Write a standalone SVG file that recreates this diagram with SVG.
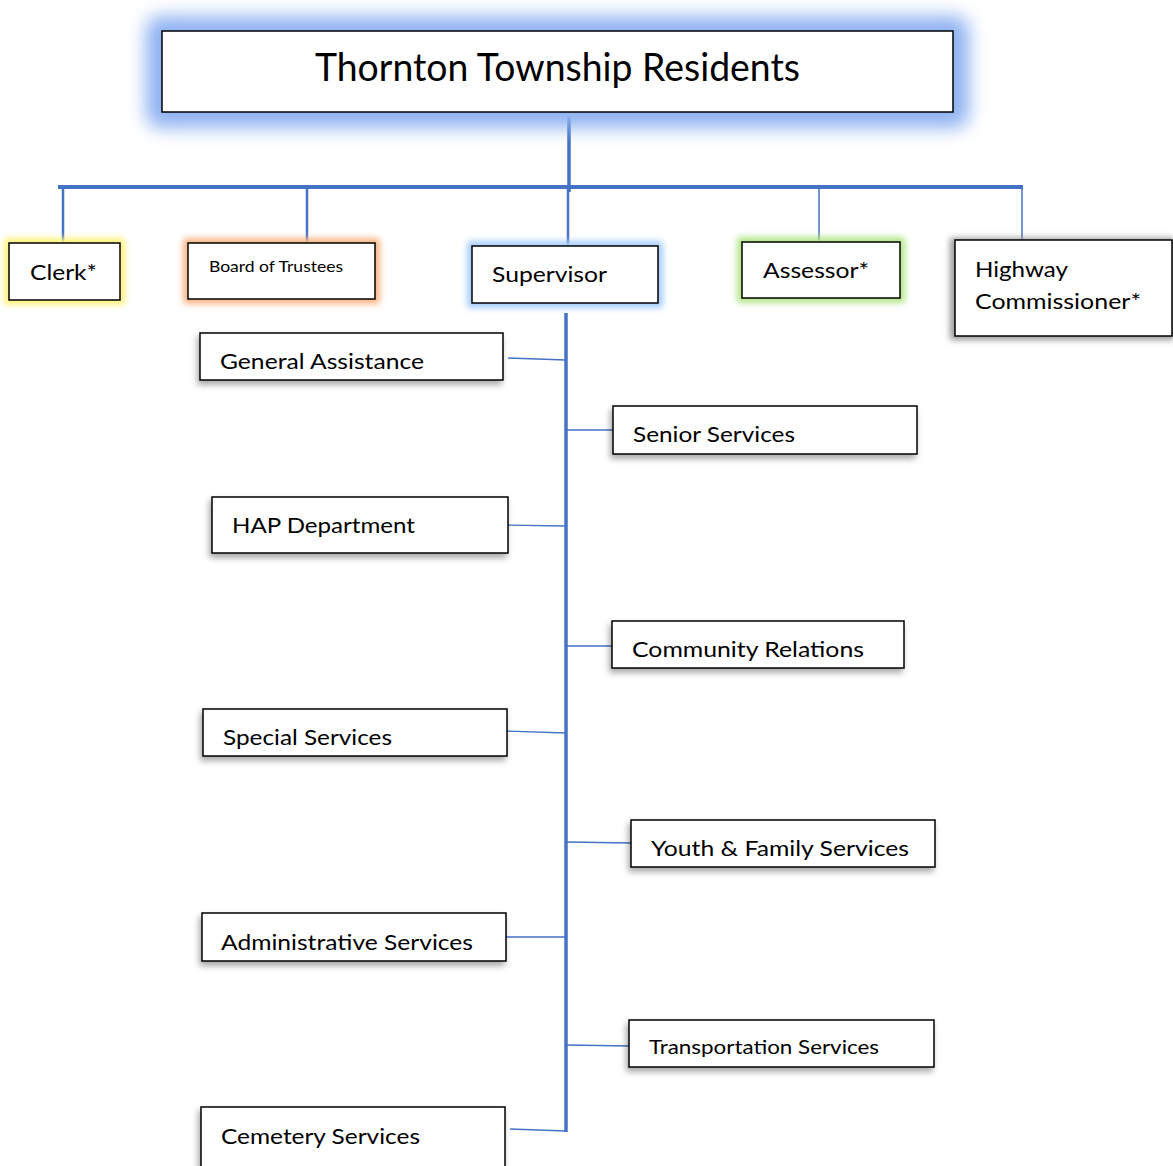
<svg xmlns="http://www.w3.org/2000/svg" width="1173" height="1166" viewBox="0 0 1173 1166">
<defs>
<style>
.box{fill:#fff;stroke:#000;stroke-width:1.5}
.t{font-family:Lato,"Open Sans","Liberation Sans",sans-serif;fill:#000;font-size:22px}
.t.title{font-size:38px}
.t.small{font-size:16px}
.t.mid{font-size:20px}
.main{stroke:#4472c4;stroke-width:3.5;fill:none}
.thin{stroke:#4472c4;stroke-width:1.5;fill:none}
.br{stroke:#4472c4;stroke-width:1.3;fill:none}
</style>
<filter id="glowBig" x="-20%" y="-50%" width="140%" height="200%"><feGaussianBlur stdDeviation="9"/></filter>
<filter id="glowSm" x="-30%" y="-50%" width="160%" height="200%"><feGaussianBlur stdDeviation="3"/></filter>
<filter id="shadow" x="-10%" y="-30%" width="120%" height="170%"><feDropShadow dx="-2" dy="4" stdDeviation="3" flood-color="#000" flood-opacity="0.35"/></filter>
</defs>
<rect width="1173" height="1166" fill="#fff"/>

<g id="connectors">
<line class="main" x1="569" y1="117" x2="569" y2="192"/>
<line class="main" x1="58" y1="187" x2="1023" y2="187" style="stroke-width:4"/>
<line class="main" x1="63" y1="187" x2="63" y2="243" style="stroke-width:2.5"/>
<line class="main" x1="307" y1="187" x2="307" y2="243" style="stroke-width:2.5"/>
<line class="main" x1="568" y1="187" x2="568" y2="246" style="stroke-width:2.5"/>
<line class="thin" x1="819" y1="187" x2="819" y2="242"/>
<line class="thin" x1="1022" y1="187" x2="1022" y2="240"/>
<line class="main" x1="566" y1="313" x2="566" y2="1132"/>
<line class="br" x1="508" y1="358" x2="566" y2="360"/>
<line class="br" x1="566" y1="430" x2="613" y2="430"/>
<line class="br" x1="504" y1="525" x2="566" y2="526"/>
<line class="br" x1="566" y1="646" x2="612" y2="646"/>
<line class="br" x1="507" y1="731" x2="566" y2="733"/>
<line class="br" x1="566" y1="842" x2="631" y2="843"/>
<line class="br" x1="506" y1="937" x2="566" y2="937"/>
<line class="br" x1="566" y1="1045" x2="631" y2="1046"/>
<line class="br" x1="510" y1="1129" x2="566" y2="1131"/>
</g>

<g id="residents">
<rect x="146" y="16" width="823" height="112" rx="14" fill="#8fb2f2" filter="url(#glowBig)"/>
<rect class="box" x="162" y="31" width="791" height="81"/>
<text class="t title" x="315" y="81" textLength="485" lengthAdjust="spacingAndGlyphs">Thornton Township Residents</text>
</g>

<g id="clerk">
<rect x="4" y="238" width="121" height="67" rx="4" fill="#fff27a" filter="url(#glowSm)"/>
<rect class="box" x="9" y="243" width="111" height="57"/>
<text class="t" x="30" y="280" textLength="67" lengthAdjust="spacingAndGlyphs">Clerk*</text>
</g>

<g id="board">
<rect x="183" y="238" width="197" height="66" rx="4" fill="#f7b585" filter="url(#glowSm)"/>
<rect class="box" x="188" y="243" width="187" height="56"/>
<text class="t small" x="209" y="272" textLength="134" lengthAdjust="spacingAndGlyphs">Board of Trustees</text>
</g>

<g id="supervisor">
<rect x="467" y="241" width="196" height="67" rx="4" fill="#a6cdfa" filter="url(#glowSm)"/>
<rect class="box" x="472" y="246" width="186" height="57"/>
<text class="t" x="492" y="282" textLength="115" lengthAdjust="spacingAndGlyphs">Supervisor</text>
</g>

<g id="assessor">
<rect x="737" y="237" width="168" height="66" rx="4" fill="#b2e687" filter="url(#glowSm)"/>
<rect class="box" x="742" y="242" width="158" height="56"/>
<text class="t" x="763" y="278" textLength="106" lengthAdjust="spacingAndGlyphs">Assessor*</text>
</g>

<g id="highway">
<rect x="950" y="238" width="224" height="102" fill="#999" filter="url(#glowSm)"/>
<rect class="box" x="955" y="240" width="217" height="96"/>
<text class="t" x="975" y="277" textLength="93" lengthAdjust="spacingAndGlyphs">Highway</text>
<text class="t" x="975" y="309" textLength="166" lengthAdjust="spacingAndGlyphs">Commissioner*</text>
</g>

<g id="general-assistance" >
<rect class="box" x="200" y="333" width="303" height="47" filter="url(#shadow)"/>
<text class="t" x="220" y="369" textLength="204" lengthAdjust="spacingAndGlyphs">General Assistance</text>
</g>
<g id="senior-services">
<rect class="box" x="613" y="406" width="304" height="48" filter="url(#shadow)"/>
<text class="t" x="633" y="442" textLength="162" lengthAdjust="spacingAndGlyphs">Senior Services</text>
</g>
<g id="hap-department">
<rect class="box" x="212" y="497" width="296" height="56" filter="url(#shadow)"/>
<text class="t" x="232" y="533" textLength="183" lengthAdjust="spacingAndGlyphs">HAP Department</text>
</g>
<g id="community-relations">
<rect class="box" x="612" y="621" width="292" height="47" filter="url(#shadow)"/>
<text class="t" x="632" y="657" textLength="232" lengthAdjust="spacingAndGlyphs">Community Relations</text>
</g>
<g id="special-services">
<rect class="box" x="203" y="709" width="304" height="47" filter="url(#shadow)"/>
<text class="t" x="223" y="745" textLength="169" lengthAdjust="spacingAndGlyphs">Special Services</text>
</g>
<g id="youth-family-services">
<rect class="box" x="631" y="820" width="304" height="47" filter="url(#shadow)"/>
<text class="t" x="651" y="856" textLength="258" lengthAdjust="spacingAndGlyphs">Youth &amp; Family Services</text>
</g>
<g id="administrative-services">
<rect class="box" x="202" y="913" width="304" height="48" filter="url(#shadow)"/>
<text class="t" x="221" y="950" textLength="252" lengthAdjust="spacingAndGlyphs">Administrative Services</text>
</g>
<g id="transportation-services">
<rect class="box" x="629" y="1020" width="305" height="47" filter="url(#shadow)"/>
<text class="t mid" x="649" y="1054" textLength="230" lengthAdjust="spacingAndGlyphs">Transportation Services</text>
</g>
<g id="cemetery-services">
<rect class="box" x="201" y="1107" width="304" height="62" filter="url(#shadow)"/>
<text class="t" x="221" y="1144" textLength="199" lengthAdjust="spacingAndGlyphs">Cemetery Services</text>
</g>
</svg>
